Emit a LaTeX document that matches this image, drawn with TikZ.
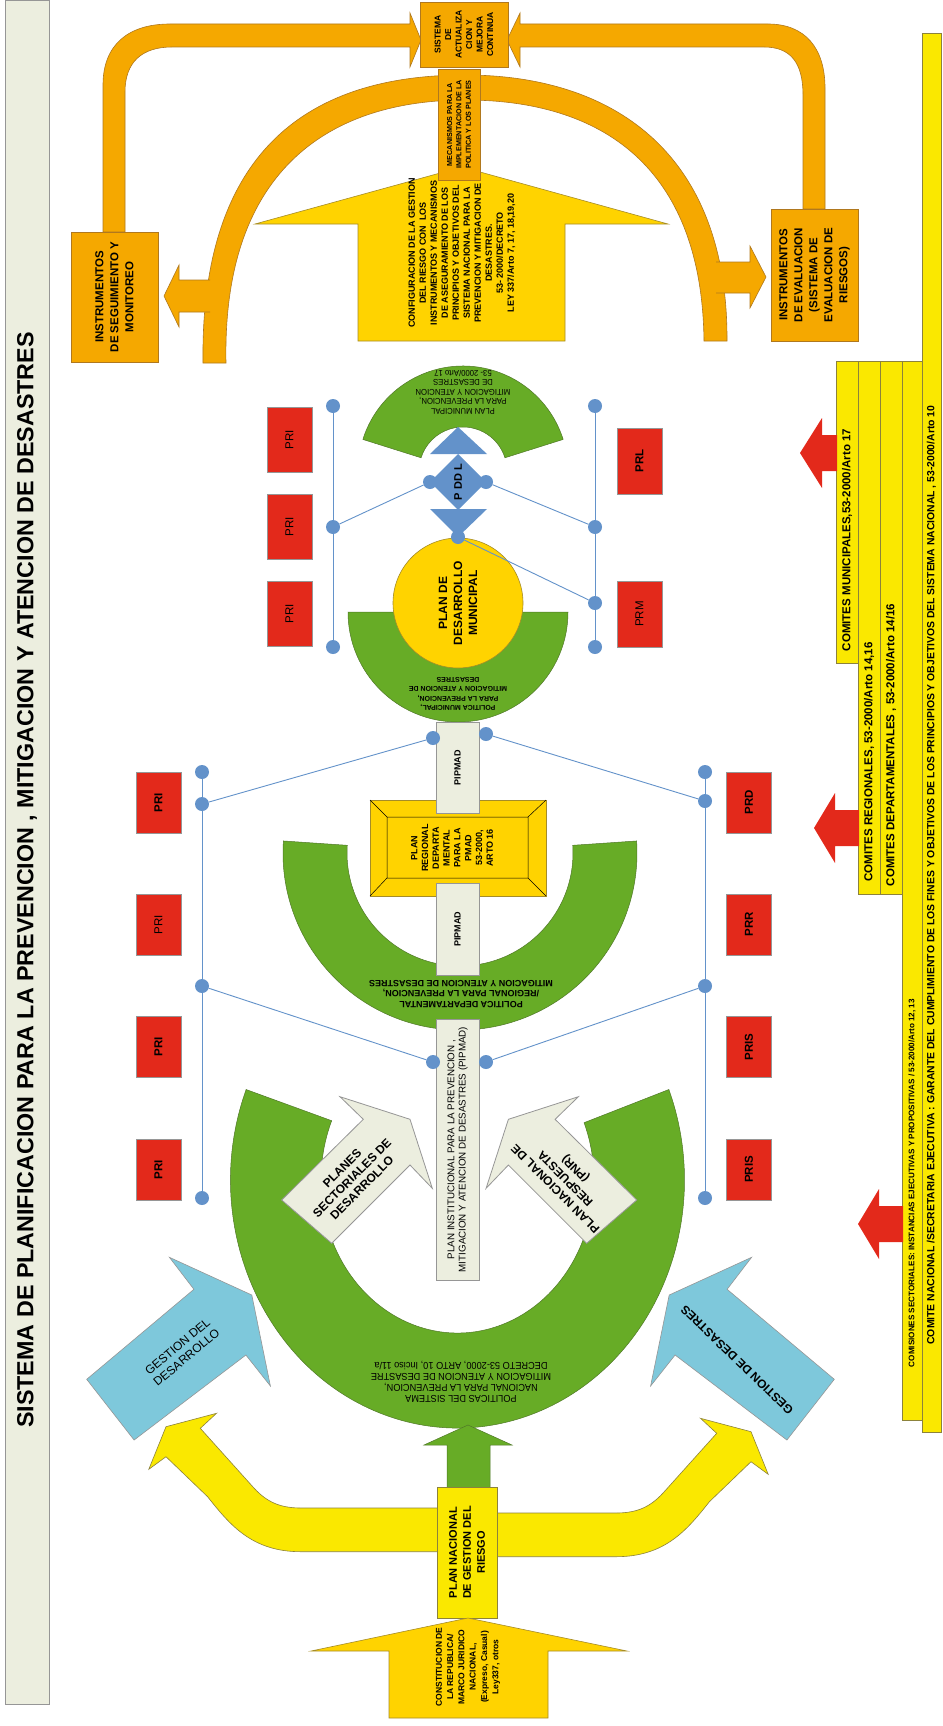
\documentclass[tikz,border=0pt]{standalone}
\usepackage{fontspec}
\setmainfont{Liberation Sans}
\newfontfamily\narrowfont[FakeStretch=0.92]{Liberation Sans}
\definecolor{orangefill}{RGB}{245,168,0}
\definecolor{orangeline}{RGB}{176,120,30}
\definecolor{goldfill}{RGB}{255,211,0}
\definecolor{goldline}{RGB}{165,140,40}
\definecolor{lemonfill}{RGB}{250,232,0}
\definecolor{lemonline}{RGB}{140,130,60}
\definecolor{leafgreen}{RGB}{103,172,38}
\definecolor{greenline}{RGB}{80,120,40}
\definecolor{skyblue}{RGB}{126,200,219}
\definecolor{paper}{RGB}{236,238,223}
\definecolor{grayline}{RGB}{150,150,150}
\definecolor{alertred}{RGB}{227,41,27}
\definecolor{dotblue}{RGB}{99,146,202}
\begin{document}
\begin{tikzpicture}[x=1pt,y=1pt,yscale=-1,
  orangeshape/.style={fill=orangefill,draw=orangeline,line width=0.6pt},
  goldshape/.style={fill=goldfill,draw=goldline,line width=0.6pt},
  lemonshape/.style={fill=lemonfill,draw=lemonline,line width=0.6pt},
  greenshape/.style={fill=leafgreen,draw=greenline,line width=0.5pt},
  blueshape/.style={fill=skyblue,draw=grayline,line width=0.6pt},
  paperbox/.style={fill=paper,draw=grayline,line width=0.8pt},
  redshape/.style={fill=alertred,draw=none},
  redbox/.style={fill=alertred,draw=grayline,line width=0.6pt,rotate=90,inner sep=0pt,
    minimum height=45pt,font=\fontsize{11.5}{13}\selectfont},
  dot/.style={circle,fill=dotblue,minimum size=14pt,inner sep=0pt},
  link/.style={draw=dotblue,line width=0.9pt},
  vtext/.style={rotate=90,align=center,inner sep=0pt},
  flip/.style={rotate=180,align=center,inner sep=0pt},
  boxtext/.style={rotate=90,align=center,inner sep=0pt,font=\bfseries\fontsize{11.5}{15}\selectfont},
]
\useasboundingbox (0,0) rectangle (942,1726);
\fill[white] (0,0) rectangle (942,1726);

%Title strip
\draw[paperbox] (5,0) rectangle (49,1704);
\node[vtext,font=\bfseries\fontsize{23.3}{26}\selectfont] (title) at (27,880) {SISTEMA DE PLANIFICACION PARA LA PREVENCION , MITIGACION Y ATENCION DE DESASTRES};

%Bent arrows to the top box
\draw[orangeshape] (103,232) -- (103,85) .. controls (103,45) and (128,24) .. (170,24) -- (410,24) -- (410,13) -- (421,40) -- (410,67) -- (410,47) -- (172,47) .. controls (142,47) and (125,62) .. (125,92) -- (125,232) -- cycle;
\draw[orangeshape] (825,209) -- (825,88) .. controls (825,48) and (805,24) .. (768,24) -- (520,24) -- (520,13) -- (507,40) -- (520,67) -- (520,47) -- (764,47) .. controls (790,47) and (803,62) .. (803,95) -- (803,209) -- cycle;

%Up Arrow
\draw[goldshape] (358,341) -- (358,224) -- (255,224) -- (462,167) -- (668,224) -- (565,224) -- (565,341) -- cycle;
\node[vtext,font=\bfseries\fontsize{9}{11}\selectfont] (config) at (462,253) {CONFIGURACION DE LA GESTION\\DEL RIESGO CON\ \ LOS\\INSTRUMENTOS Y MECANISMOS\\DE ASEGURAMIENTO DE LOS\\PRINCIPIOS Y OBJETIVOS DEL\\SISTEMA NACIONAL PARA LA\\PREVENCION Y MITIGACION DE\\DESASTRES.\\53- 2000/DECRETO\\LEY 337/Arto 7, 17, 18,19,20};

%Block Arch
\draw[orangeshape] (203,363) .. controls (200,140) and (320,75) .. (465,75) .. controls (610,75) and (728,150) .. (727,341) -- (704,341) .. controls (702,165) and (600,100) .. (465,100) .. controls (335,100) and (222,165) .. (226,363) -- cycle;
%Left Arrow
\draw[orangeshape] (210,280) -- (179,280) -- (179,265) -- (164,296) -- (179,327) -- (179,312) -- (210,312);
%Right Arrow
\draw[orangeshape] (716,262) -- (750,262) -- (750,246) -- (766,277) -- (750,308) -- (750,293) -- (716,293);

%Orange boxes
\node[orangeshape,boxtext,font=\bfseries\fontsize{8.5}{10.5}\selectfont,minimum width=65pt,minimum height=88pt] (mejora) at (464,34.5) {SISTEMA\\DE\\ACTUALIZA\\CION Y\\MEJORA\\CONTINUA};
\node[orangeshape,boxtext,font=\bfseries\fontsize{7.2}{9.3}\selectfont,minimum width=111pt,minimum height=42pt] (mecanismos) at (459,124.5) {MECANISMOS PARA LA\\IMPLEMENTACION DE LA\\POLITICA Y LOS PLANES};
\node[orangeshape,boxtext,minimum width=130pt,minimum height=87pt] (seguimiento) at (114.5,297) {INSTRUMENTOS\\DE SEGUIMIENTO Y\\MONITOREO};
\node[orangeshape,boxtext,minimum width=132pt,minimum height=87pt] (evaluacion) at (814.5,275) {INSTRUMENTOS\\DE EVALUACION\\(SISTEMA DE\\EVALUACION DE\\RIESGOS)};

%Municipal block arc
\draw[greenshape] ([shift={(463,471)}]197.5:105) arc[start angle=197.5,end angle=342.5,radius=105] -- ([shift={(463,471)}]342.5:44) arc[start angle=342.5,end angle=197.5,radius=44] -- cycle;
\node[flip,font=\narrowfont\fontsize{8.4}{9.5}\selectfont] (planmun) at (463,392) {PLAN MUNICIPAL\\PARA LA PREVENCION,\\MITIGACION Y ATENCION\\DE DESASTRES\\53- 2000/Arto 17};
\draw[greenshape] (348,612) arc[start angle=180,end angle=0,radius=110] -- cycle;
\node[flip,font=\bfseries\fontsize{7}{9.3}\selectfont] (polmun) at (458,694) {POLITICA MUNICIPAL,\\PARA LA PREVENCION,\\MITIGACION Y ATENCION DE\\DESASTRES};
\node[circle,fill=goldfill,draw=goldline,line width=0.6pt,minimum size=130pt,inner sep=0pt,rotate=90,align=center,font=\bfseries\fontsize{12}{15}\selectfont] (pdm) at (458,603) {PLAN DE\\DESARROLLO\\MUNICIPAL};

%Diamond and triangles
\fill[dotblue] (430,454) -- (458,427) -- (487,454) -- cycle;
\fill[dotblue] (430,509) -- (487,509) -- (458,537) -- cycle;
\fill[dotblue] (430,482) -- (458,454) -- (486,482) -- (458,510) -- cycle;
\node[vtext,font=\bfseries\fontsize{11}{13}\selectfont] (pddl) at (458,482) {P DD L};

%Departmental block arc
\draw[greenshape] ([shift={(460,853)}]183.9:177) arc[start angle=183.9,end angle=-3.9,radius=177] -- ([shift={(460,853)}]-3.9:113) arc[start angle=-3.9,end angle=183.9,radius=113] -- cycle;
\node[flip,font=\bfseries\fontsize{9}{10.5}\selectfont] (poldep) at (461,994) {POLITICA DEPARTAMENTAL\\/REGIONAL PARA LA PREVENCION,\\MITIGACION Y ATENCION DE DESASTRES};

%Bevel
\draw[goldshape] (370,800) rectangle (546,896);
\draw[line width=0.5pt] (387,817) rectangle (528,878) (370,800) -- (387,817) (546,800) -- (528,817) (370,896) -- (387,878) (546,896) -- (528,878);
\node[vtext,font=\bfseries\fontsize{9}{10.8}\selectfont] (planreg) at (452,848) {PLAN\\REGIONAL\\DEPARTA\\MENTAL\\PARA LA\\PMAD\\53-2000,\\ARTO 16};
\node[paperbox,boxtext,font=\bfseries\fontsize{9}{11}\selectfont,minimum width=91pt,minimum height=43pt] (pipmadtop) at (457.5,767.5) {PIPMAD};
\node[paperbox,boxtext,font=\bfseries\fontsize{9}{11}\selectfont,minimum width=92pt,minimum height=43pt] (pipmadbot) at (457.5,929) {PIPMAD};

%National block arc
\draw[greenshape] ([shift={(457.5,1180)}]201.4:227 and 248) arc[start angle=201.4,end angle=-21.4,x radius=227,y radius=248] -- ([shift={(457.5,1180)}]-22:136.5 and 153) arc[start angle=-22,end angle=202.8,x radius=136.5,y radius=153] -- cycle;
\node[flip,font=\narrowfont\fontsize{10}{11}\selectfont] (polnac) at (461,1382) {POLITICAS DEL SISTEMA\\NACIONAL PARA LA PREVENCION,\\MITIGACION Y ATENCION DE DESASTRE\\DECRETO 53-2000, ARTO 10, Inciso 11/a};
\node[paperbox,boxtext,font=\fontsize{9.8}{11.2}\selectfont,minimum width=261pt,minimum height=43pt] (pipmad) at (457.5,1149.5) {PLAN INSTITUCIONAL PARA LA PREVENCION ,\\MITIGACION Y ATENCION DE DESASTRES (PIPMAD)};

%Beige arrows
\draw[paperbox] (281.7,1200) -- (363.3,1119.3) -- (340,1096.7) -- (410,1119.3) -- (432.3,1188.3) -- (410,1165) -- (331.7,1243.3) -- cycle;
\node[rotate=45,align=center,inner sep=0pt,font=\bfseries\fontsize{12}{14}\selectfont] (sectorial) at (352,1178) {PLANES\\SECTORIALES DE\\DESARROLLO};
\draw[paperbox] (636.7,1200) -- (555.1,1119.3) -- (578.4,1096.7) -- (508.4,1119.3) -- (486.1,1188.3) -- (508.4,1165) -- (586.7,1243.3) -- cycle;
\node[rotate=135,align=center,inner sep=0pt,font=\bfseries\fontsize{12}{14}\selectfont] (respuesta) at (566,1178) {PLAN NACIONAL DE\\RESPUESTA\\(PNR)};

%Blue arrows
\draw[blueshape] (86.7,1379.3) -- (193.9,1289.3) -- (169.4,1257.3) -- (251.8,1295) -- (270.4,1386) -- (245.9,1355) -- (134.1,1440) -- cycle;
\node[rotate=40,align=center,inner sep=0pt,font=\fontsize{12}{14}\selectfont] (gdes) at (182,1352) {GESTION DEL\\DESARROLLO};
\draw[blueshape] (834.3,1379.3) -- (727.1,1289.3) -- (751.6,1257.3) -- (669.2,1295) -- (650.6,1386) -- (675.1,1355) -- (786.9,1440) -- cycle;
\node[rotate=136,align=center,inner sep=0pt,font=\bfseries\fontsize{12}{14}\selectfont] (gdis) at (737,1360) {GESTION DE DESASTRES};

%Yellow branches
\draw[lemonshape] (445,1508) -- (301,1508) .. controls (280,1508) and (267,1502) .. (254.2,1488.3) -- (200.3,1428.3) -- (216.5,1413.3) -- (166,1426.7) -- (148.8,1469.3) -- (166,1456.7) -- (207.6,1496.7) .. controls (230,1525) and (252,1551.7) .. (301,1551.7) -- (445,1551.7);
\begin{scope}[shift={(917,5)},xscale=-1]
\draw[lemonshape] (445,1508) -- (301,1508) .. controls (280,1508) and (267,1502) .. (254.2,1488.3) -- (200.3,1428.3) -- (216.5,1413.3) -- (166,1426.7) -- (148.8,1469.3) -- (166,1456.7) -- (207.6,1496.7) .. controls (230,1525) and (252,1551.7) .. (301,1551.7) -- (445,1551.7);
\end{scope}

%Green up arrow
\draw[greenshape] (447,1490) -- (447,1445) -- (424,1445) -- (468,1425) -- (512,1445) -- (490,1445) -- (490,1490);
\node[lemonshape,boxtext,font=\bfseries\fontsize{11}{14}\selectfont,minimum width=131pt,minimum height=60pt] (plannac) at (467,1552.5) {PLAN NACIONAL\\DE GESTION DEL\\RIESGO};

%Bottom up arrow
\draw[goldshape] (389,1718) -- (389,1651) -- (311,1651) -- (468,1618) -- (627,1651) -- (548,1651) -- (548,1718) -- cycle;
\node[vtext,font=\bfseries\fontsize{8.5}{11.3}\selectfont] (constitucion) at (468,1667) {CONSTITUCION DE\\LA REPUBLICA/\\MARCO JURIDICO\\NACIONAL,\\(Expreso, Casual)\\Ley337, otros};

%Dots
\foreach \n/\x/\y in {ul1/333/406,ul2/333/527,ul3/333/647,ur1/595/406,ur2/595/527,ur3/595/603,ur4/595/647,
  dl/430/482,dr/486/482,db/458/537,ml/433/738,mr/486/734,bl/433/1062,br/486/1062,
  ll1/202/772,ll2/202/804,ll3/202/986,ll4/202/1198,lr1/705/772,lr2/705/801,lr3/705/986,lr4/705/1198}
  \node[dot] (\n) at (\x,\y) {};
\draw[link] (ul1) -- (ul2) -- (ul3) (ur1) -- (ur2) -- (ur3) -- (ur4);
\draw[link] (ll1) -- (ll2) -- (ll3) -- (ll4) (lr1) -- (lr2) -- (lr3) -- (lr4);
\draw[link] (ul2) -- (dl) (dr) -- (ur2) (db) -- (ur3);
\draw[link] (ll2) -- (ml) (mr) -- (lr2) (ll3) -- (bl) (br) -- (lr3);

%Red boxes
\node[redbox,minimum width=65pt] (pri1) at (289.5,439.5) {PRI};
\node[redbox,minimum width=65pt] (pri2) at (289.5,526.5) {PRI};
\node[redbox,minimum width=65pt] (pri3) at (289.5,614) {PRI};
\node[redbox,minimum width=66pt,font=\bfseries\fontsize{11.5}{13}\selectfont] (prl) at (639.5,461) {PRL};
\node[redbox,minimum width=66pt] (prm) at (639.5,614) {PRM};
\node[redbox,minimum width=61pt,font=\bfseries\fontsize{11.5}{13}\selectfont] (pri4) at (158.5,802.5) {PRI};
\node[redbox,minimum width=61pt] (pri5) at (158.5,924.5) {PRI};
\node[redbox,minimum width=61pt,font=\bfseries\fontsize{11.5}{13}\selectfont] (pri6) at (158.5,1047) {PRI};
\node[redbox,minimum width=61pt,font=\bfseries\fontsize{11.5}{13}\selectfont] (pri7) at (158.5,1169.5) {PRI};
\node[redbox,minimum width=61pt,font=\bfseries\fontsize{11.5}{13}\selectfont] (prd) at (749,802.5) {PRD};
\node[redbox,minimum width=61pt,font=\bfseries\fontsize{11.5}{13}\selectfont] (prr) at (749,924.5) {PRR};
\node[redbox,minimum width=61pt,font=\bfseries\fontsize{11.5}{13}\selectfont] (pris1) at (749,1047) {PRIS};
\node[redbox,minimum width=61pt,font=\bfseries\fontsize{11.5}{13}\selectfont] (pris2) at (749,1169.5) {PRIS};

%Committee panels
\draw[lemonshape] (922,33) rectangle (941,1432);
\draw[lemonshape] (902,361) rectangle (922,1420);
\draw[lemonshape] (880,361) rectangle (902,894);
\draw[lemonshape] (858,361) rectangle (880,894);
\draw[lemonshape] (836,361) rectangle (858,663);
\node[vtext,font=\bfseries\fontsize{11.5}{13}\selectfont] (cmun) at (847,540) {COMITES MUNICIPALES,53-2000/Arto 17};
\node[vtext,font=\bfseries\fontsize{11.5}{13}\selectfont] (creg) at (869,762) {COMITES REGIONALES, 53-2000/Arto 14,16};
\node[vtext,font=\bfseries\fontsize{11.5}{13}\selectfont] (cdep) at (891,745) {COMITES DEPARTAMENTALES , 53-2000/Arto 14/16};
\node[vtext,font=\bfseries\fontsize{8.1}{11}\selectfont] (csec) at (912,1183) {COMISIONES SECTORIALES: INSTANCIAS EJECUTIVAS Y PROPOSITIVAS / 53-2000/Arto 12, 13};
\node[vtext,font=\bfseries\fontsize{10.4}{11}\selectfont] (cnac) at (931.5,875) {COMITE NACIONAL /SECRETARIA EJECUTIVA : GARANTE DEL CUMPLIMIENTO DE LOS FINES Y OBJETIVOS DE LOS PRINCIPIOS Y OBJETIVOS DEL SISTEMA NACIONAL , 53-2000/Arto 10};

%Red arrows
\fill[redshape] (837,435) -- (822,435) -- (822,418) -- (800,453) -- (822,488) -- (822,471) -- (837,471) -- cycle;
\fill[redshape] (859,810) -- (835,810) -- (835,793) -- (814,828) -- (835,863) -- (835,846) -- (859,846) -- cycle;
\fill[redshape] (903,1206) -- (879,1206) -- (879,1189) -- (858,1224) -- (879,1259) -- (879,1242) -- (903,1242) -- cycle;
\end{tikzpicture}
\end{document}
